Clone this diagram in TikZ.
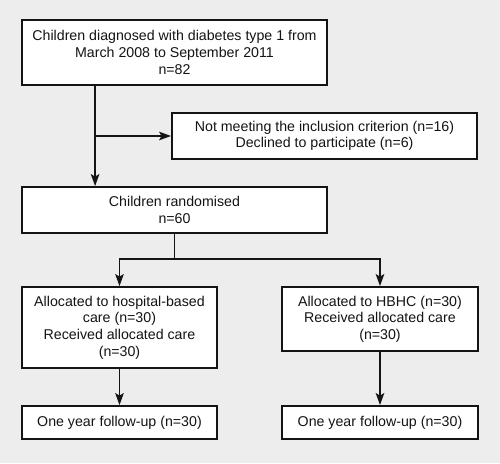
\documentclass[tikz,border=0pt]{standalone}
\usepackage{fontspec}
\setmainfont{Liberation Sans}
\usetikzlibrary{arrows.meta,calc}
\definecolor{bggray}{RGB}{237,237,237}
\definecolor{ink}{RGB}{20,20,20}
\begin{document}
\begin{tikzpicture}[x=1pt,y=-1pt,
  box/.style={draw=ink,fill=white,line width=1.8pt,inner sep=0pt,align=center,
    font=\fontsize{14.2}{16.6}\selectfont,text=ink},
  arr/.style={draw=ink,line width=1.7pt,-{Stealth[length=12pt,width=8.5pt,inset=2.5pt]}},
  ln/.style={draw=ink,line width=1.7pt}]
\fill[bggray] (0,0) rectangle (500,463);
\useasboundingbox (0,0) rectangle (500,463);
\node[box,minimum width=305pt,minimum height=65pt] (b1) at (174.5,52.5)
  {Children diagnosed with diabetes type 1 from\\March 2008 to September 2011\\n=82};
\node[box,minimum width=305pt,minimum height=46pt] (b3) at (324.5,136)
  {Not meeting the inclusion criterion (n=16)\\Declined to participate (n=6)};
\node[box,minimum width=305pt,minimum height=46pt] (b2) at (174.5,210)
  {Children randomised\\n=60};
\node[box,minimum width=195pt,minimum height=81pt] (b4) at (119.5,327.5)
  {Allocated to hospital-based\\care (n=30)\\Received allocated care\\(n=30)};
\node[box,minimum width=196pt,minimum height=64pt] (b5) at (380,319)
  {Allocated to HBHC (n=30)\\Received allocated care\\(n=30)};
\node[box,minimum width=195pt,minimum height=33pt] (b6) at (119.5,422.5)
  {One year follow-up (n=30)};
\node[box,minimum width=196pt,minimum height=33pt] (b7) at (380,422.5)
  {One year follow-up (n=30)};
\coordinate (s1) at ([xshift=74pt]b1.south west);
\coordinate (e1) at ([xshift=74pt]b2.north west);
\draw[arr] (s1) -- (e1);
\draw[arr] (s1 |- b3.west) -- (b3.west);
\coordinate (j) at ($(b2.south)+(0,25)$);
\draw[ln] (b2.south) -- (j);
\draw[arr] (j) -| (b4.north);
\draw[arr] (j) -| (b5.north);
\draw[arr] (b4.south) -- (b6.north);
\draw[arr] (b5.south) -- (b7.north);
\end{tikzpicture}
\end{document}
